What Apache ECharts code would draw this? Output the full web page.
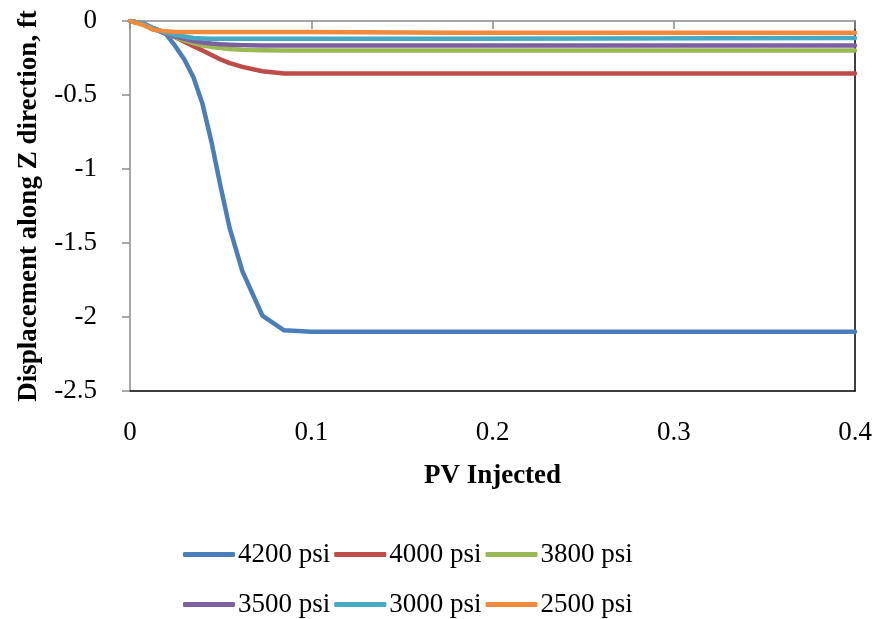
<!DOCTYPE html>
<html>
<head>
<meta charset="utf-8">
<title>Displacement along Z direction</title>
<script type="text/javascript" src="https://cdn.jsdelivr.net/npm/echarts@6/dist/echarts.min.js"></script>
<style>
  html, body { margin: 0; padding: 0; background: #fff; }
  #chart { width: 878px; height: 619px; }
</style>
</head>
<body>
<div id="chart"></div>
<script type="text/javascript">
    // PV injected (x) - shared by every curve
    var pvInjected = [0, 0.008, 0.013, 0.02, 0.025, 0.03, 0.035, 0.04, 0.045, 0.05,
                      0.055, 0.062, 0.073, 0.085, 0.1, 0.18, 0.4];

    // displacement along Z, ft
    var disp4200 = [0, -0.02, -0.05, -0.09, -0.17, -0.26, -0.38, -0.56, -0.82, -1.12,
                    -1.40, -1.69, -1.99, -2.09, -2.10, -2.10, -2.10];
    var disp4000 = [0, -0.02, -0.05, -0.085, -0.11, -0.14, -0.17, -0.2, -0.23, -0.26,
                    -0.285, -0.31, -0.34, -0.355, -0.355, -0.355, -0.355];
    var disp3800 = [0, -0.02, -0.05, -0.085, -0.11, -0.13, -0.15, -0.165, -0.175, -0.183,
                    -0.19, -0.195, -0.198, -0.2, -0.2, -0.2, -0.2];
    var disp3500 = [0, -0.02, -0.05, -0.085, -0.105, -0.12, -0.135, -0.145, -0.152, -0.157,
                    -0.16, -0.163, -0.165, -0.165, -0.165, -0.165, -0.165];
    var disp3000 = [0, -0.02, -0.05, -0.08, -0.095, -0.105, -0.115, -0.118, -0.12, -0.12,
                    -0.12, -0.12, -0.12, -0.12, -0.12, -0.12, -0.115];
    var disp2500 = [0, -0.03, -0.06, -0.07, -0.075, -0.075, -0.075, -0.075, -0.075, -0.075,
                    -0.075, -0.075, -0.075, -0.075, -0.075, -0.08, -0.08];

    var seriesNames = ['4200 psi', '4000 psi', '3800 psi', '3500 psi', '3000 psi', '2500 psi'];
    var seriesData = [disp4200, disp4000, disp3800, disp3500, disp3000, disp2500];
    var colors = ['#4a7ebb', '#be4b48', '#98b954', '#7d60a0', '#46aac5', '#f08a3c'];

    var font = 'Liberation Serif, Times New Roman, serif';
    var grey = '#8a8a8a';

    var series = [];
    seriesData.forEach(function(vals, i) {
        series.push({
            name: seriesNames[i],
            type: 'line',
            xAxisIndex: 0,
            yAxisIndex: 0,
            symbol: 'none',
            lineStyle: { width: 4.5, color: colors[i], cap: 'round', join: 'round' },
            itemStyle: { color: colors[i] },
            data: vals.map(function(v, j) { return [pvInjected[j], v]; })
        });
    });

    var legendCommon = {
        icon: 'roundRect',
        itemWidth: 52,
        itemHeight: 5,
        itemGap: 4,
        padding: 0,
        textStyle: { fontFamily: font, fontSize: 27, color: '#000', padding: [0, 0, 0, -2] }
    };

    var option = {
        backgroundColor: '#fff',
        animation: false,
        color: colors,
        grid: { left: 130, right: 23, top: 21, bottom: 228 },
        legend: [
            Object.assign({ left: 183, top: 541, data: seriesNames.slice(0, 3) }, legendCommon),
            Object.assign({ left: 183, top: 591, data: seriesNames.slice(3, 6) }, legendCommon)
        ],
        xAxis: [
            {
                type: 'value',
                position: 'bottom',
                min: 0, max: 0.4, interval: 0.1,
                name: 'PV Injected',
                nameLocation: 'middle',
                nameGap: 72,
                nameTextStyle: { fontFamily: font, fontSize: 27, fontWeight: 'bold', color: '#000' },
                axisLine: { onZero: false, lineStyle: { color: '#000', width: 1.5 } },
                axisTick: { show: false },
                axisLabel: { fontFamily: font, fontSize: 27, color: '#000', margin: 28 },
                splitLine: { show: false }
            },
            {
                type: 'value',
                position: 'top',
                min: 0, max: 0.4, interval: 0.1,
                axisLine: { onZero: false, lineStyle: { color: grey, width: 1.5 } },
                axisTick: { show: true, inside: true, length: 8, lineStyle: { color: grey, width: 1.5 } },
                axisLabel: { show: false },
                splitLine: { show: false }
            }
        ],
        yAxis: [
            {
                type: 'value',
                position: 'left',
                min: -2.5, max: 0, interval: 0.5,
                name: 'Displacement along Z direction, ft',
                nameLocation: 'middle',
                nameGap: 87,
                nameTextStyle: { fontFamily: font, fontSize: 27, fontWeight: 'bold', color: '#000' },
                axisLine: { onZero: false, lineStyle: { color: grey, width: 1.5 } },
                axisTick: { show: true, length: 8, lineStyle: { color: grey, width: 1.5 } },
                axisLabel: { fontFamily: font, fontSize: 27, color: '#000', margin: 33 },
                splitLine: { show: false }
            },
            {
                type: 'value',
                position: 'right',
                min: -2.5, max: 0, interval: 0.5,
                axisLine: { show: true, onZero: false, lineStyle: { color: '#000', width: 1.5 } },
                axisTick: { show: false },
                axisLabel: { show: false },
                splitLine: { show: false }
            }
        ],
        series: series
    };

    var chart = echarts.init(document.getElementById('chart'));
    chart.setOption(option);
</script>
</body>
</html>
